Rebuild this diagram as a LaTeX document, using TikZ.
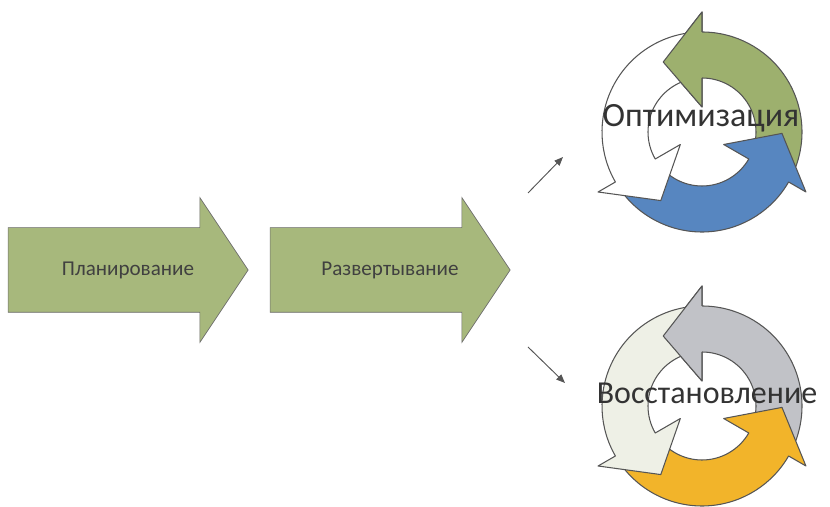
\documentclass[tikz,border=0pt]{standalone}
\usepackage{fontspec}
\setmainfont{Carlito}
\usepackage{xcolor}
\usetikzlibrary{arrows.meta,positioning,shapes.arrows}

\definecolor{stagegreen}{HTML}{A7B87C}
\definecolor{cycgreen}{HTML}{9DB06E}
\definecolor{cycblue}{HTML}{5786C0}
\definecolor{cycgray}{HTML}{C1C2C7}
\definecolor{cycorange}{HTML}{F2B42A}
\definecolor{cyclight}{HTML}{EEF0E6}
\definecolor{edgegray}{HTML}{555555}

\begin{document}
\begin{tikzpicture}[x=0.03cm, y=0.03cm, >={Triangle[length=7.5pt,width=6pt]},
    stage/.style={single arrow, draw=gray!85!black, fill=stagegreen, line width=0.6pt,
        single arrow tip angle=112.6, single arrow head extend=0.9cm,
        minimum height=7.2cm, minimum width=4.32cm,
        text height=8pt, text depth=2pt, inner ysep=30.85pt, inner xsep=0pt},
    stagelabel/.style={font=\fontsize{18}{21}\selectfont, text=black!75, xshift=0.42cm},
    cycarrow/.style={draw=edgegray, line width=0.9pt, line join=round},
    cyclabel/.style={text=black!80}]
    \useasboundingbox (0,0) rectangle (830,507);

    % the two stages
    \node[stage, label={[stagelabel]center:Планирование}] (plan) at (114,237) {};
    \node[stage, label={[stagelabel]center:Развертывание}] (deploy) at (376,237) {};

    % the two cycles, three circular arrows each
    \foreach \cy/\ca/\cb/\cc in {375/cycgreen/cycblue/white, 101/cycgray/cycorange/cyclight} {
        \begin{scope}[shift={(702,\cy)}]
            \foreach \rot/\col in {0/\ca, -120/\cb, 120/\cc}
                \draw[cycarrow, fill=\col, rotate=\rot] (-25:100) arc[start angle=-25, end angle=90, radius=100]
                    -- (90:120) -- (119:80) -- (90:25) -- (90:54)
                    arc[start angle=90, end angle=-25, radius=54] -- cycle;
            % first head again, over the tail of the last arrow
            \fill[\ca] (90:100) -- (90:120) -- (119:80) -- (90:25) -- (90:54) -- cycle;
            \draw[cycarrow] (90:100) -- (90:120) -- (119:80) -- (90:25) -- (90:54);
        \end{scope}
    }
    \node[cyclabel, font=\fontsize{29}{34}\selectfont] (opt) at (701,389) {Оптимизация};
    \node[cyclabel, font=\fontsize{27.3}{32}\selectfont] (rec) at (707,114) {Восстановление};

    % pointers to the cycles
    \coordinate (optfrom) at (528,314);
    \coordinate (optto) at (563,350);
    \coordinate (recfrom) at (528,160);
    \coordinate (recto) at (565,124);
    \draw[->, edgegray, line width=0.8pt] (optfrom) -- (optto);
    \draw[->, edgegray, line width=0.8pt] (recfrom) -- (recto);
\end{tikzpicture}
\end{document}
